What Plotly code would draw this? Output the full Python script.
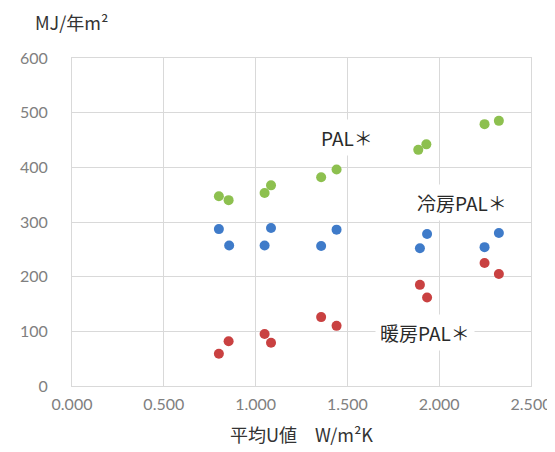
import plotly.graph_objects as go

# U-values (W/m2K) for each building case
u_pal = [0.800, 0.853, 1.049, 1.084, 1.357, 1.441, 1.886, 1.930, 2.247, 2.325]
pal = [347, 340, 353, 367, 382, 396, 432, 442, 479, 485]

u_cool = [0.800, 0.856, 1.049, 1.084, 1.357, 1.441, 1.895, 1.934, 2.247, 2.325]
cool_pal = [287, 257, 257, 289, 256, 286, 252, 278, 254, 280]

u_heat = [0.800, 0.853, 1.049, 1.084, 1.357, 1.441, 1.895, 1.934, 2.247, 2.325]
heat_pal = [59, 82, 95, 79, 126, 110, 185, 162, 225, 205]

x_ticks = [0.0, 0.5, 1.0, 1.5, 2.0, 2.5]
x_tick_labels = ["0.000", "0.500", "1.000", "1.500", "2.000", "2.500"]
y_ticks = [0, 100, 200, 300, 400, 500, 600]

series_labels = ["PAL＊", "冷房PAL＊", "暖房PAL＊"]
label_pos = [(1.50, 454), (2.126, 335), (1.923, 97)]

CJK = "Noto Sans CJK JP"

fig = go.Figure()
fig.add_trace(go.Scatter(x=u_pal, y=pal, mode="markers",
                         marker=dict(size=10, color="#8DC04F"), name=series_labels[0]))
fig.add_trace(go.Scatter(x=u_cool, y=cool_pal, mode="markers",
                         marker=dict(size=10, color="#3F7BC9"), name=series_labels[1]))
fig.add_trace(go.Scatter(x=u_heat, y=heat_pal, mode="markers",
                         marker=dict(size=10, color="#C94141"), name=series_labels[2]))

for txt, (lx, ly) in zip(series_labels, label_pos):
    fig.add_annotation(x=lx, y=ly, text=txt, showarrow=False,
                       font=dict(family=CJK, size=19, color="#2A2A2A"),
                       bgcolor="white", borderpad=4)

fig.add_annotation(xref="paper", yref="paper", x=-0.085, y=1.065, xanchor="left",
                   yanchor="bottom", text="MJ/年m²", showarrow=False,
                   font=dict(family=CJK, size=18, color="#333333"))

fig.update_layout(
    width=555, height=452,
    margin=dict(l=62, r=25, t=50, b=74),
    paper_bgcolor="white", plot_bgcolor="white",
    showlegend=False,
    font=dict(family=CJK),
    xaxis=dict(range=[0, 2.5], tickvals=x_ticks, ticktext=x_tick_labels,
               showgrid=True, gridcolor="#D9D9D9", gridwidth=1,
               showline=True, linecolor="#D9D9D9", mirror=True, zeroline=False,
               ticks="", ticklabelstandoff=4,
               tickfont=dict(family="Lato", size=16, color="#808080"),
               title=dict(text="平均U値　W/m²K", standoff=17,
                          font=dict(family=CJK, size=18, color="#333333"))),
    yaxis=dict(range=[0, 600], tickvals=y_ticks,
               showgrid=True, gridcolor="#D9D9D9", gridwidth=1,
               showline=True, linecolor="#D9D9D9", mirror=True, zeroline=False,
               ticks="", ticklabelstandoff=20,
               tickfont=dict(family="Lato", size=16, color="#808080")),
)

fig.write_html("out.html")
